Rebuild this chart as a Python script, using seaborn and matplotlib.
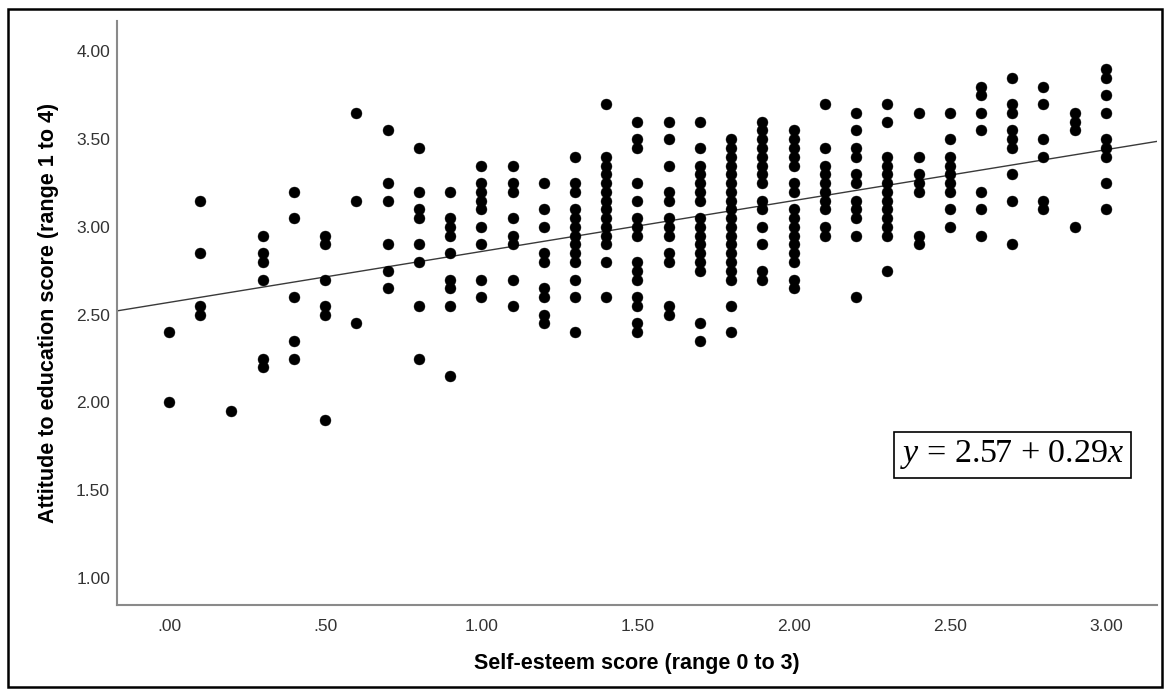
import numpy as np
import pandas as pd
import matplotlib
matplotlib.use("Agg")
import matplotlib.pyplot as plt
import seaborn as sns
from matplotlib.patches import Rectangle

# ---- data: attitude scores observed at each self-esteem level ----
x_levels = [0.0, 0.1, 0.2, 0.3, 0.4, 0.5, 0.6, 0.7, 0.8, 0.9, 1.0,
            1.1, 1.2, 1.3, 1.4, 1.5, 1.6, 1.7, 1.8, 1.9, 2.0,
            2.1, 2.2, 2.3, 2.4, 2.5, 2.6, 2.7, 2.8, 2.9, 3.0]

att_00 = [2.40, 2.00]
att_01 = [3.15, 2.85, 2.55, 2.50]
att_02 = [1.95]
att_03 = [2.95, 2.85, 2.80, 2.70, 2.25, 2.20]
att_04 = [3.20, 3.05, 2.60, 2.35, 2.25]
att_05 = [2.95, 2.90, 2.70, 2.55, 2.50, 1.90]
att_06 = [3.65, 3.15, 2.45]
att_07 = [3.55, 3.25, 3.15, 2.90, 2.75, 2.65]
att_08 = [3.45, 3.20, 3.10, 3.05, 2.90, 2.80, 2.55, 2.25]
att_09 = [3.20, 3.05, 3.00, 2.95, 2.85, 2.70, 2.65, 2.55, 2.15]
att_10 = [3.35, 3.25, 3.20, 3.15, 3.10, 3.00, 2.90, 2.70, 2.60]
att_11 = [3.35, 3.25, 3.20, 3.05, 2.95, 2.90, 2.70, 2.55]
att_12 = [3.25, 3.10, 3.00, 2.85, 2.80, 2.65, 2.60, 2.50, 2.45]
att_13 = [3.40, 3.25, 3.20, 3.10, 3.05, 3.00, 2.95, 2.90, 2.85, 2.80, 2.70, 2.60, 2.40]
att_14 = [3.70, 3.40, 3.35, 3.30, 3.25, 3.20, 3.15, 3.10, 3.05, 3.00, 2.95, 2.90, 2.80, 2.60]
att_15 = [3.60, 3.50, 3.45, 3.25, 3.15, 3.05, 3.00, 2.95, 2.80, 2.75, 2.70, 2.60, 2.55, 2.45, 2.40]
att_16 = [3.60, 3.50, 3.35, 3.20, 3.15, 3.05, 3.00, 2.95, 2.85, 2.80, 2.55, 2.50]
att_17 = [3.60, 3.45, 3.35, 3.30, 3.25, 3.20, 3.15, 3.05, 3.00, 2.95, 2.90, 2.85, 2.80, 2.75, 2.45, 2.35]
att_18 = [3.50, 3.45, 3.40, 3.35, 3.30, 3.25, 3.20, 3.15, 3.10, 3.05, 3.00, 2.95, 2.90, 2.85, 2.80, 2.75, 2.70, 2.55, 2.40]
att_19 = [3.60, 3.55, 3.50, 3.45, 3.40, 3.35, 3.30, 3.25, 3.15, 3.10, 3.00, 2.90, 2.75, 2.70]
att_20 = [3.55, 3.50, 3.45, 3.40, 3.35, 3.25, 3.20, 3.10, 3.05, 3.00, 2.95, 2.90, 2.85, 2.80, 2.70, 2.65]
att_21 = [3.70, 3.45, 3.35, 3.30, 3.25, 3.20, 3.15, 3.10, 3.00, 2.95]
att_22 = [3.65, 3.55, 3.45, 3.40, 3.30, 3.25, 3.15, 3.10, 3.05, 2.95, 2.60]
att_23 = [3.70, 3.60, 3.40, 3.35, 3.30, 3.25, 3.20, 3.15, 3.10, 3.05, 3.00, 2.95, 2.75]
att_24 = [3.65, 3.40, 3.30, 3.25, 3.20, 2.95, 2.90]
att_25 = [3.65, 3.50, 3.40, 3.35, 3.30, 3.25, 3.20, 3.10, 3.00]
att_26 = [3.80, 3.75, 3.65, 3.55, 3.20, 3.10, 2.95]
att_27 = [3.85, 3.70, 3.65, 3.55, 3.50, 3.45, 3.30, 3.15, 2.90]
att_28 = [3.80, 3.70, 3.50, 3.40, 3.15, 3.10]
att_29 = [3.65, 3.60, 3.55, 3.00]
att_30 = [3.90, 3.85, 3.75, 3.65, 3.50, 3.45, 3.40, 3.25, 3.10]

att_columns = [att_00, att_01, att_02, att_03, att_04, att_05, att_06, att_07,
               att_08, att_09, att_10, att_11, att_12, att_13, att_14, att_15,
               att_16, att_17, att_18, att_19, att_20, att_21, att_22, att_23,
               att_24, att_25, att_26, att_27, att_28, att_29, att_30]

# fitted line shown on the chart
intercept = 2.57
slope = 0.29

x_ticks = [0.0, 0.5, 1.0, 1.5, 2.0, 2.5, 3.0]
x_tick_labels = [".00", ".50", "1.00", "1.50", "2.00", "2.50", "3.00"]
y_ticks = [1.0, 1.5, 2.0, 2.5, 3.0, 3.5, 4.0]
y_tick_labels = ["1.00", "1.50", "2.00", "2.50", "3.00", "3.50", "4.00"]

x_label = "Self-esteem score (range 0 to 3)"
y_label = "Attitude to education score (range 1 to 4)"

# ---- build table ----
rows_x, rows_y = [], []
for xv, col in zip(x_levels, att_columns):
    rows_x.extend([xv] * len(col))
    rows_y.extend(col)
df = pd.DataFrame({"self_esteem": rows_x, "attitude": rows_y})

# ---- figure ----
sns.set_theme(style="white")
plt.rcParams["font.family"] = ["Liberation Sans", "DejaVu Sans"]
plt.rcParams["mathtext.fontset"] = "custom"
plt.rcParams["mathtext.rm"] = "Liberation Serif"
plt.rcParams["mathtext.it"] = "Liberation Serif:italic"

fig = plt.figure(figsize=(11.66, 6.93), dpi=100)
ax = fig.add_axes([117 / 1166, 88 / 693, 1040 / 1166, 584.3 / 693])

xlim = (-0.1665, 3.1636)
ylim = (0.846, 4.175)

xs = np.array(xlim)
ax.plot(xs, intercept + slope * xs, color="#3a3a3a", linewidth=1.0, zorder=2)

sns.scatterplot(data=df, x="self_esteem", y="attitude", ax=ax,
                color="black", s=62, edgecolor="black", linewidth=0.3,
                zorder=3, legend=False)

ax.set_xlim(*xlim)
ax.set_ylim(*ylim)
ax.set_xticks(x_ticks)
ax.set_xticklabels(x_tick_labels)
ax.set_yticks(y_ticks)
ax.set_yticklabels(y_tick_labels)
ax.tick_params(axis="both", length=0, labelsize=12.5, colors="#333333")
ax.tick_params(axis="x", pad=10)
ax.tick_params(axis="y", pad=5)

ax.set_xlabel(x_label, fontsize=15.5, fontweight="bold", color="black", labelpad=14)
ax.set_ylabel(y_label, fontsize=15.5, fontweight="bold", color="black", labelpad=12)

for side in ["top", "right"]:
    ax.spines[side].set_visible(False)
for side in ["left", "bottom"]:
    ax.spines[side].set_color("#8a8a8a")
    ax.spines[side].set_linewidth(1.5)

ax.text(0.861, 0.257, r"$y$ = 2.57 + 0.29$x$", transform=ax.transAxes,
        ha="center", va="center", fontsize=24.5, family="Liberation Serif",
        color="black",
        bbox=dict(boxstyle="square,pad=0.2", facecolor="white",
                  edgecolor="black", linewidth=1.2))

# outer frame
fig.patches.append(Rectangle((8 / 1166, 6 / 693), 1154 / 1166, 678 / 693,
                             transform=fig.transFigure, fill=False,
                             edgecolor="black", linewidth=1.8))

fig.savefig("out.png", dpi=100)
